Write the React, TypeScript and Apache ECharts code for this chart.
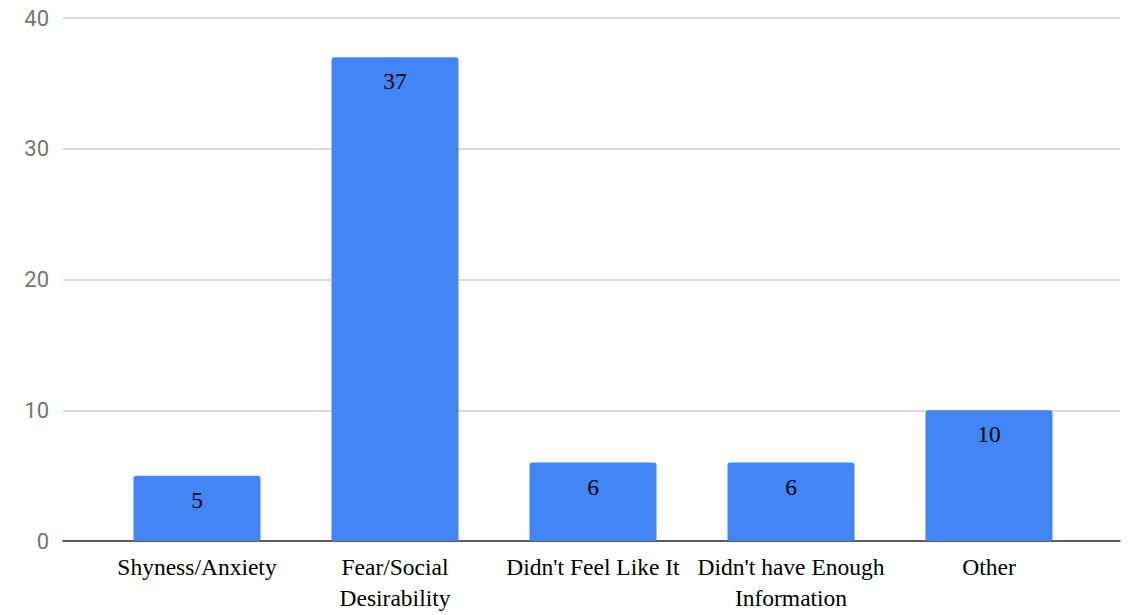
import React, { useEffect, useRef } from "react";
import * as echarts from "echarts";

const categories = [
  "Shyness/Anxiety",
  "Fear/Social\nDesirability",
  "Didn't Feel Like It",
  "Didn't have Enough\nInformation",
  "Other",
];
const values = [5, 37, 6, 6, 10];
const yTicks = { min: 0, max: 40, interval: 10 };

export default function App() {
  const ref = useRef<HTMLDivElement>(null);
  useEffect(() => {
    const chart = echarts.init(ref.current!, null, { renderer: "svg" });
    chart.setOption({
      animation: false,
      backgroundColor: "#ffffff",
      grid: [
        { left: 63, right: 18, top: 18, bottom: 74 },
        { left: 98, right: 50, top: 18, bottom: 74 },
      ],
      xAxis: [
        {
          gridIndex: 0,
          type: "value",
          min: 0,
          max: 1,
          axisLine: { show: true, onZero: false, lineStyle: { color: "#333333", width: 1.5 } },
          axisTick: { show: false },
          axisLabel: { show: false },
          splitLine: { show: false },
        },
        {
          gridIndex: 1,
          type: "category",
          data: categories,
          axisLine: { show: false },
          axisTick: { show: false },
          axisLabel: {
            interval: 0,
            margin: 10,
            color: "#000000",
            fontFamily: "Liberation Serif",
            fontSize: 23.5,
            lineHeight: 31,
          },
        },
      ],
      yAxis: [
        {
          gridIndex: 0,
          type: "value",
          min: yTicks.min,
          max: yTicks.max,
          interval: yTicks.interval,
          axisLine: { show: false },
          axisTick: { show: false },
          axisLabel: { color: "#757575", fontFamily: "Roboto", fontSize: 22, margin: 14 },
          splitLine: { lineStyle: { color: "#cccccc", width: 1.5 } },
        },
        {
          gridIndex: 1,
          type: "value",
          min: yTicks.min,
          max: yTicks.max,
          interval: yTicks.interval,
          show: false,
          splitLine: { show: false },
        },
      ],
      series: [
        {
          type: "bar",
          xAxisIndex: 1,
          yAxisIndex: 1,
          data: values,
          barWidth: 127,
          itemStyle: { color: "#4285f4", borderRadius: [3, 3, 0, 0] },
          label: {
            show: true,
            position: "insideTop",
            distance: 12,
            color: "#000000",
            fontFamily: "Liberation Serif",
            fontSize: 23.5,
          },
          z: 3,
        },
      ],
    });
    return () => chart.dispose();
  }, []);
  return (
    <div
      ref={ref}
      style={{ position: "fixed", left: 0, top: 0, width: 1138, height: 615 }}
    />
  );
}
